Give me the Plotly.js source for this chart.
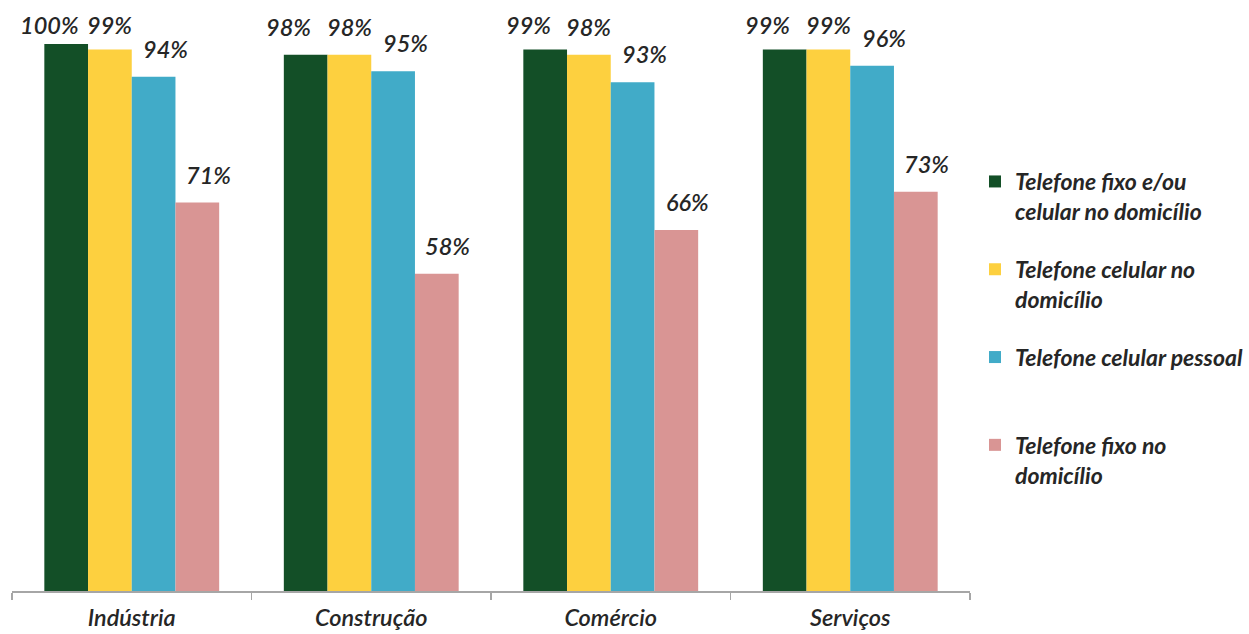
<!DOCTYPE html>
<html>
<head>
<meta charset="utf-8">
<script src="https://cdn.plot.ly/plotly-3.0.1.min.js"></script>
<style>
  html, body { margin: 0; padding: 0; background: #ffffff; }
  #chart { width: 1249px; height: 634px; }
</style>
</head>
<body>
<div id="chart"></div>
<script>
// Sectors on the x axis
const categories = ['Indústria', 'Construção', 'Comércio', 'Serviços'];

// Series names (legend) and their values in percent
const seriesNames = [
  'Telefone fixo e/ou<br>celular no domicílio',
  'Telefone celular no<br>domicílio',
  'Telefone celular pessoal<br> ',
  'Telefone fixo no<br>domicílio'
];
const fixoOuCelular = [100, 98, 99, 99];
const celularDomicilio = [99, 98, 98, 99];
const celularPessoal = [94, 95, 93, 96];
const fixoDomicilio = [71, 58, 66, 73];

const seriesValues = [fixoOuCelular, celularDomicilio, celularPessoal, fixoDomicilio];
const seriesColors = ['#134f27', '#fdd03f', '#41abc8', '#d99594'];

// Horizontal nudge of each series' value labels (px), so neighbouring labels don't collide
const labelNudge = [-17, 0, 12, 11];

const FONT = 'Lato, "Open Sans", sans-serif';
const TEXT_COLOR = '#262626';
const BARGAP = 0.27;
const nSeries = seriesValues.length;

const traces = seriesValues.map((vals, i) => ({
  type: 'bar',
  name: seriesNames[i],
  x: categories,
  y: vals,
  legendgroup: 'g' + i,
  marker: { color: seriesColors[i], line: { width: 0 } },
  hoverinfo: 'skip'
}));

// Value labels placed over each bar of the group
const annotations = [];
seriesValues.forEach((vals, i) => {
  const offset = (i + 0.5 - nSeries / 2) * (1 - BARGAP) / nSeries;
  vals.forEach((v, j) => {
    annotations.push({
      x: j + offset,
      y: Math.min(v, 98.3),
      xref: 'x',
      yref: 'y',
      text: v + '%',
      showarrow: false,
      yanchor: 'bottom',
      xanchor: 'center',
      yshift: 12,
      xshift: labelNudge[i],
      font: { family: FONT, size: 23.5, color: TEXT_COLOR, style: 'italic', weight: 600 }
    });
  });
});

const layout = {
  width: 1249,
  height: 634,
  margin: { l: 12, r: 279, t: 10, b: 43 },
  paper_bgcolor: '#ffffff',
  plot_bgcolor: '#ffffff',
  barmode: 'group',
  bargap: BARGAP,
  bargroupgap: 0,
  showlegend: true,
  font: { family: FONT, color: TEXT_COLOR },
  xaxis: {
    type: 'category',
    range: [-0.5, 3.5],
    showline: true,
    linecolor: '#a6a6a6',
    linewidth: 1.5,
    ticks: 'outside',
    tickson: 'boundaries',
    ticklen: 7,
    tickwidth: 1.5,
    tickcolor: '#a6a6a6',
    ticklabelstandoff: 5,
    showgrid: false,
    zeroline: false,
    tickfont: { family: FONT, size: 23.5, color: TEXT_COLOR, style: 'italic', weight: 600 },
    fixedrange: true
  },
  yaxis: {
    range: [0, 106.2],
    showline: false,
    showgrid: false,
    zeroline: false,
    showticklabels: false,
    ticks: '',
    fixedrange: true
  },
  legend: {
    xref: 'container',
    yref: 'container',
    x: 975 / 1249,
    y: 1 - 160 / 634,
    xanchor: 'left',
    yanchor: 'top',
    valign: 'top',
    tracegroupgap: 25,
    maxheight: 600,
    bgcolor: 'rgba(0,0,0,0)',
    borderwidth: 0,
    font: { family: FONT, size: 23, color: TEXT_COLOR, style: 'italic', weight: 'bold' }
  },
  annotations: annotations
};

Plotly.newPlot('chart', traces, layout, { displayModeBar: false, staticPlot: true });
</script>
</body>
</html>
